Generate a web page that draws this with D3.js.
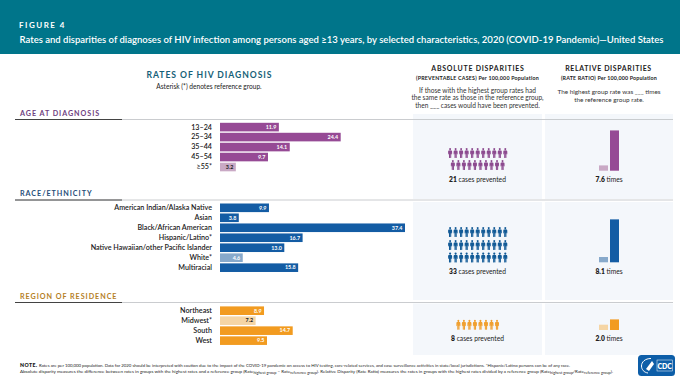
<!DOCTYPE html>
<html><head><meta charset="utf-8">
<script src="https://cdn.jsdelivr.net/npm/d3@7/dist/d3.min.js"></script>
<style>html,body{margin:0;padding:0;background:#fff}svg{display:block}text{font-family:Lato,"Open Sans",sans-serif}</style>
</head><body><svg id="c" width="680" height="381"></svg>
<script>
const ageLabels=["13–24","25–34","35–44","45–54","≥55*"];
const ageRates=[11.9,24.4,14.1,9.7,3.2];
const raceLabels=["American Indian/Alaska Native","Asian","Black/African American","Hispanic/Latino*","Native Hawaiian/other Pacific Islander","White*","Multiracial"];
const raceRates=[9.9,3.8,37.4,16.7,13.0,4.6,15.8];
const regionLabels=["Northeast","Midwest*","South","West"];
const regionRates=[8.9,7.2,14.7,9.5];
const sectionTitles=["AGE AT DIAGNOSIS","RACE/ETHNICITY","REGION OF RESIDENCE"];
const casesPrevented=[21,33,8];
const rateRatios=[7.6,8.1,2.0];
const refLabels=["≥55*","White*","Midwest*"];
const colors=[["#964a95","#c9a9c5","#6f3f7f"],["#135ca4","#87a9cb","#1f4e79"],["#f29b20","#f5d5a4","#b5801f"]];
const iconColors=["#8c4a8f","#125a96","#f0a030"];
const iconsPerRow=[[11,10],[11,11,11],[8]];

const svg=d3.select("#c");
const x=d3.scaleLinear().domain([0,37.4]).range([220,405]);
const h=d3.scaleLinear().domain([0,1]).range([0,5.3]);

function txt(s,px,py,size,opt={}){
  const t=svg.append("text").attr("x",px).attr("y",py).attr("font-size",size)
    .attr("text-anchor",opt.a||"start").attr("font-weight",opt.w||400).attr("fill",opt.c||"#1c1c1c");
  if(opt.ls)t.attr("letter-spacing",opt.ls);
  if(opt.tl)t.attr("textLength",opt.tl).attr("lengthAdjust","spacingAndGlyphs");
  t.text(s);return t;
}
svg.append("rect").attr("width",680).attr("height",54).attr("fill","#00758a");
txt("FIGURE 4",19,28,8,{w:700,c:"#fff",ls:1.5});
txt("Rates and disparities of diagnoses of HIV infection among persons aged ≥13 years, by selected characteristics, 2020 (COVID-19 Pandemic)—United States",19.5,43.3,9.4,{w:600,c:"#fff",tl:644});

txt("RATES OF HIV DIAGNOSIS",209.5,78,8.6,{a:"middle",w:700,c:"#155f78",ls:.95});
txt("Asterisk (*) denotes reference group.",209,88.7,6.6,{a:"middle",c:"#222"});
txt("ABSOLUTE DISPARITIES",478,70.5,7,{a:"middle",w:700,ls:.75});
txt("(PREVENTABLE CASES) Per 100,000 Population",477.5,79.5,5.1,{a:"middle",w:700,ls:.2,tl:123});
["If those with the highest group rates had","the same rate as those in the reference group,","then ___ cases would have been prevented."].forEach((s,i)=>txt(s,477.5,92.6+i*7.7,6.6,{a:"middle",c:"#333"}));
txt("RELATIVE DISPARITIES",608.5,70.5,7,{a:"middle",w:700,ls:.62});
txt("(RATE RATIO) Per 100,000 Population",609,79.5,5.1,{a:"middle",w:700,ls:.15,tl:96});
["The highest group rate was ___ times","the reference group rate."].forEach((s,i)=>txt(s,609,93.7+i*8.2,6.4,{a:"middle",c:"#333"}));

const groups=[
 {labels:ageLabels,rates:ageRates,y0:127,line:119.5,tY:115.6,pTop:114,pBot:199,icons:[153,165],capY:181.5,base:170.7},
 {labels:raceLabels,rates:raceRates,y0:207.7,line:200,tY:196.3,pTop:202,pBot:300,icons:[232,245,257.5],capY:273.5,base:262.3},
 {labels:regionLabels,rates:regionRates,y0:310.6,line:302.5,tY:298.5,pTop:303.5,pBot:355,icons:[324.7],capY:341,base:330}
];
groups.forEach((g,k)=>{
  [[413,129],[545,128]].forEach(([px,w])=>svg.append("rect").attr("x",px).attr("y",g.pTop).attr("width",w).attr("height",g.pBot-g.pTop).attr("fill","#f4f7fb"));
});
const person="M0-5a1.15 1.15 0 1 1-.01 0ZM-1.2-2.6C-2-2.6-2.5-2.2-2.5-1.5L-2.5 1C-2.5 1.6-1.7 1.6-1.6 1L-1.4-.6-1.4 4.5C-1.4 5.3-.2 5.3-.1 4.5L-.1 1.2.1 1.2.1 4.5C.2 5.3 1.4 5.3 1.4 4.5L1.4-.6 1.6 1C1.7 1.6 2.5 1.6 2.5 1L2.5-1.5C2.5-2.2 2-2.6 1.2-2.6Z";
groups.forEach((g,k)=>{
  svg.append("line").attr("x1",15).attr("x2",673).attr("y1",g.line).attr("y2",g.line).attr("stroke","#c4c6c9").attr("stroke-width",.9);
  svg.append("line").attr("x1",15).attr("x2",122).attr("y1",g.line).attr("y2",g.line).attr("stroke","#333").attr("stroke-width",.9);
  txt(sectionTitles[k],20,g.tY,7.2,{w:700,c:colors[k][2],ls:.95});
  const y=i=>g.y0+i*9.98;
  const isRef=l=>refLabels.includes(l);
  g.labels.forEach((l,i)=>{
    txt(l,212,y(i)+2.5,7.18,{a:"end",w:600,c:"#222"});
    svg.append("rect").attr("x",x(0)).attr("y",y(i)-4.2).attr("width",x(g.rates[i])-x(0)).attr("height",8.6)
      .attr("fill",isRef(l)?colors[k][1]:colors[k][0]);
    const dark=isRef(l)&&k!==1;
    txt(g.rates[i].toFixed(1),x(g.rates[i])-2.5,y(i)+1.9,5.4,{a:"end",w:700,c:dark?"#222":"#fff"});
  });
  const rows=iconsPerRow[k];
  const step=5.52, cx=477.7;
  const sx=d3.scaleLinear().domain([0,1]).range([0,step]);
  rows.forEach((n,r)=>{
    d3.range(n).forEach(j=>{
      svg.append("path").attr("d",person).attr("fill",iconColors[k])
        .attr("transform",`translate(${cx+sx(j-(n-1)/2)},${g.icons[r]}) scale(.8,1)`);
    });
  });
  const c=txt("",477.5,g.capY,6.7,{a:"middle",c:"#222"});
  c.append("tspan").attr("font-weight",800).text(casesPrevented[k]);
  c.append("tspan").text(" cases prevented");
  const rh=h(rateRatios[k]), b=h(1);
  svg.append("rect").attr("x",599).attr("width",9).attr("y",g.base-b).attr("height",b).attr("fill",colors[k][1]);
  svg.append("rect").attr("x",610).attr("width",9).attr("y",g.base-rh).attr("height",rh).attr("fill",colors[k][0]);
  const c2=txt("",609,g.capY,6.7,{a:"middle",c:"#222"});
  c2.append("tspan").attr("font-weight",800).text(rateRatios[k].toFixed(1));
  c2.append("tspan").text(" times");
});
const n1=txt("",20,366.5,4.5,{c:"#222",tl:550});
n1.append("tspan").attr("font-weight",800).attr("font-size",5.4).attr("letter-spacing",.4).text("NOTE. ");
n1.append("tspan").text("Rates are per 100,000 population. Data for 2020 should be interpreted with caution due to the impact of the COVID-19 pandemic on access to HIV testing, care-related services, and case surveillance activities in state/local jurisdictions. *Hispanic/Latino persons can be of any race.");
const n2=txt("",20,372.5,4.5,{c:"#222",tl:593});
const sub=(s)=>n2.append("tspan").attr("font-size",3.8).attr("dy",1).text(s);
const sup=(s)=>n2.append("tspan").attr("dy",-1).text(s);
n2.append("tspan").text("Absolute disparity measures the difference between rates in groups with the highest rates and a reference group (Rate");
sub("highest group"); sup(" – Rate"); sub("reference group"); sup("). Relative Disparity (Rate Ratio) measures the rates in groups with the highest rates divided by a reference group (Rate");
sub("highest group"); sup("/Rate"); sub("reference group"); sup(").");
svg.append("rect").attr("x",638).attr("y",355).attr("width",37).attr("height",21).attr("rx",3.5).attr("fill","#0d5ea8");
svg.append("path").attr("d","M651 358.5C645 358.5 641.5 362 641.5 366C641.5 369.5 644 372.5 648 373").attr("fill","none").attr("stroke","#fff").attr("stroke-width",1);
svg.append("path").attr("d","M652 361L646 369L649 371L654 364Z").attr("fill","#fff");
svg.append("rect").attr("x",657).attr("y",360).attr("width",15.5).attr("height",11).attr("fill","none").attr("stroke","#fff").attr("stroke-width",.5);
txt("CDC",664.7,368.5,7,{a:"middle",w:800,c:"#fff"});
</script></body></html>
